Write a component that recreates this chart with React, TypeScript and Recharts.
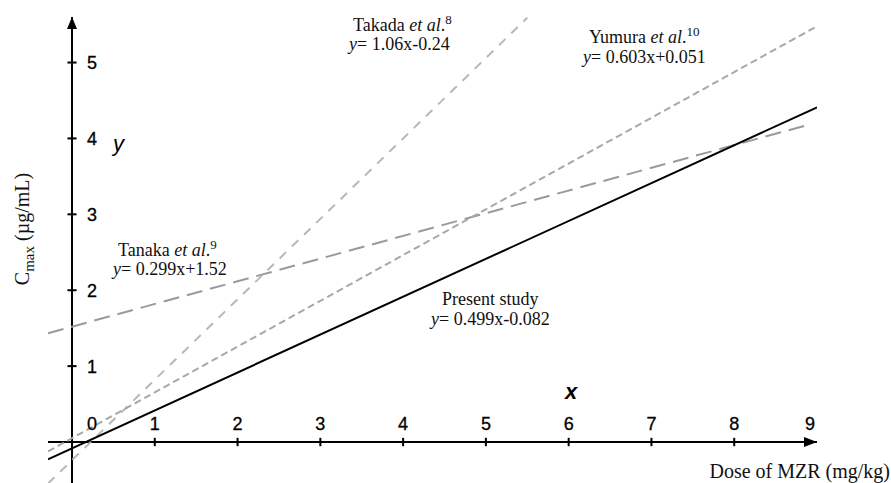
import { LineChart, Line, XAxis, YAxis, ReferenceLine, ReferenceDot } from "recharts";

// values
const xTickLabels = [0, 1, 2, 3, 4, 5, 6, 7, 8, 9];
const xTickMarks = [1, 2, 3, 4, 5, 6, 7, 8];
const yTicks = [1, 2, 3, 4, 5];

const presentStudy = [
  { x: -0.29, y: -0.227 },
  { x: 9.0, y: 4.41 },
];
const takada = [
  { x: -0.29, y: -0.547 },
  { x: 5.5, y: 5.59 },
];
const yumura = [
  { x: -0.29, y: -0.124 },
  { x: 9.0, y: 5.478 },
];
const tanaka = [
  { x: -0.29, y: 1.433 },
  { x: 8.9, y: 4.181 },
];

const W = 891;
const H = 483;
const SERIF = "'Liberation Serif', 'Times New Roman', serif";
const SANS = "'Liberation Sans', Arial, sans-serif";

function xLabelDx(t: number) {
  if (t === 0) return 20;
  if (t === 9) return -7;
  return 0;
}

export default function App() {
  return (
    <div style={{ position: "fixed", left: 0, top: 0, width: W, height: H, background: "#fff", overflow: "hidden" }}>
      <LineChart width={W} height={H} margin={{ top: 17, right: 74, bottom: 0, left: 48 }}>
        <XAxis hide type="number" dataKey="x" domain={[-0.29, 9]} allowDataOverflow />
        <YAxis hide type="number" dataKey="y" domain={[-0.54, 5.6]} allowDataOverflow />

        <ReferenceLine y={0} stroke="#000" strokeWidth={2} />
        <ReferenceLine x={0} stroke="#000" strokeWidth={2} />
        {xTickMarks.map((t) => (
          <ReferenceLine key={"xt" + t} segment={[{ x: t, y: -0.055 }, { x: t, y: 0.055 }]} stroke="#000" strokeWidth={2} />
        ))}
        {yTicks.map((t) => (
          <ReferenceLine key={"yt" + t} segment={[{ x: -0.055, y: t }, { x: 0.055, y: t }]} stroke="#000" strokeWidth={2} />
        ))}

        <Line data={tanaka} dataKey="y" stroke="#9a9a9a" strokeWidth={2} strokeDasharray="16 8" dot={false} isAnimationActive={false} />
        <Line data={takada} dataKey="y" stroke="#b8b8b8" strokeWidth={2} strokeDasharray="9 8" dot={false} isAnimationActive={false} />
        <Line data={yumura} dataKey="y" stroke="#a8a8a8" strokeWidth={2} strokeDasharray="7 4" dot={false} isAnimationActive={false} />
        <Line data={presentStudy} dataKey="y" stroke="#000" strokeWidth={2} dot={false} isAnimationActive={false} />

        <ReferenceDot
          x={9}
          y={0}
          ifOverflow="visible"
          shape={(p: any) => <path d={`M${p.cx},${p.cy} L${p.cx - 13},${p.cy - 5} L${p.cx - 13},${p.cy + 5} Z`} fill="#000" />}
        />
        <ReferenceDot
          x={0}
          y={5.6}
          ifOverflow="visible"
          shape={(p: any) => <path d={`M${p.cx},${p.cy} L${p.cx - 5},${p.cy + 12} L${p.cx + 5},${p.cy + 12} Z`} fill="#000" />}
        />

        {xTickLabels.map((t) => (
          <ReferenceDot
            key={"xl" + t}
            x={t}
            y={0}
            ifOverflow="visible"
            shape={(p: any) => (
              <text x={p.cx + xLabelDx(t)} y={p.cy - 12} textAnchor="middle" fontFamily={SANS} fontSize={18} fill="#000" stroke="#000" strokeWidth={0.3}>
                {t}
              </text>
            )}
          />
        ))}
        {yTicks.map((t) => (
          <ReferenceDot
            key={"yl" + t}
            x={0}
            y={t}
            ifOverflow="visible"
            shape={(p: any) => (
              <text x={p.cx + 15} y={p.cy + 6.5} textAnchor="start" fontFamily={SANS} fontSize={18} fill="#000" stroke="#000" strokeWidth={0.3}>
                {t}
              </text>
            )}
          />
        ))}
      </LineChart>

      <svg width={W} height={H} style={{ position: "absolute", left: 0, top: 0, pointerEvents: "none" }}>
        <g fontFamily={SERIF} fontSize={18} fill="#111">
          <text x={353} y={31}>
            Takada <tspan fontStyle="italic">et al</tspan>.<tspan fontSize={13} dy={-7}>8</tspan>
          </text>
          <text x={349} y={50}>
            <tspan fontStyle="italic">y</tspan>= 1.06x-0.24
          </text>

          <text x={589} y={43}>
            Yumura <tspan fontStyle="italic">et al</tspan>.<tspan fontSize={13} dy={-7}>10</tspan>
          </text>
          <text x={583} y={63}>
            <tspan fontStyle="italic">y</tspan>= 0.603x+0.051
          </text>

          <text x={118} y={256}>
            Tanaka <tspan fontStyle="italic">et al</tspan>.<tspan fontSize={13} dy={-7}>9</tspan>
          </text>
          <text x={113} y={275}>
            <tspan fontStyle="italic">y</tspan>= 0.299x+1.52
          </text>

          <text x={442} y={305}>Present study</text>
          <text x={431} y={325}>
            <tspan fontStyle="italic">y</tspan>= 0.499x-0.082
          </text>

          <text x={890} y={478} textAnchor="end" fontSize={20}>Dose of MZR (mg/kg)</text>
          <text transform="translate(29,229) rotate(-90)" textAnchor="middle" fontSize={20}>
            C<tspan fontSize={15} dy={5}>max</tspan>
            <tspan dy={-5}> (µg/mL)</tspan>
          </text>
        </g>
        <g fontFamily={SANS} fontSize={22} fontStyle="italic" fill="#000">
          <text x={113} y={151}>y</text>
          <text x={565} y={399} fontWeight="bold">x</text>
        </g>
      </svg>
    </div>
  );
}
